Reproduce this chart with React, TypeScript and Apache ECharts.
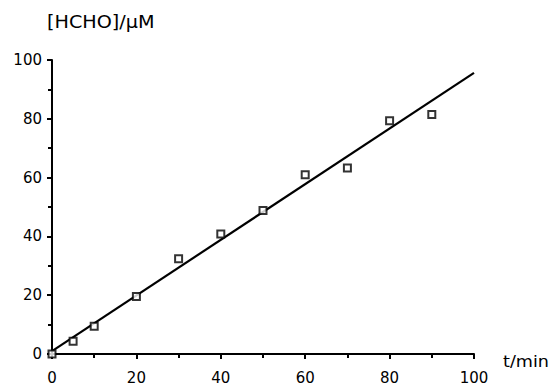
import React, { useEffect, useRef } from "react";
import * as echarts from "echarts";

const timeMin = [0, 5, 10, 20, 30, 40, 50, 60, 70, 80, 90];
const hchoMicroM = [0, 4.3, 9.4, 19.6, 32.4, 40.8, 48.8, 61, 63.3, 79.3, 81.5];
const fitTime = [0, 100];
const fitHcho = [1, 95.6];
const xTicks = [0, 20, 40, 60, 80, 100];
const yTicks = [0, 20, 40, 60, 80, 100];

const FONT = "DejaVu Sans";

export default function App() {
  const ref = useRef<HTMLDivElement>(null);
  useEffect(() => {
    if (!ref.current) return;
    const chart = echarts.init(ref.current, undefined, { renderer: "svg" });
    const axisCommon = {
      type: "value" as const,
      min: 0,
      max: 100,
      interval: 20,
      axisLine: { show: true, onZero: false, lineStyle: { color: "#000", width: 2 } },
      axisTick: { show: true, inside: false, length: 5, lineStyle: { color: "#000", width: 2 } },
      minorTick: { show: true, splitNumber: 2, length: 4, lineStyle: { color: "#000", width: 2 } },
      splitLine: { show: false },
    };
    chart.setOption({
      animation: false,
      backgroundColor: "#fff",
      grid: { left: 52, right: 79, top: 60, bottom: 30, containLabel: false },
      xAxis: {
        ...axisCommon,
        axisLabel: {
          margin: 16,
          color: "#000",
          fontFamily: FONT,
          fontSize: 15,
          formatter: (v: number) => (xTicks.includes(v) ? String(v) : ""),
        },
      },
      yAxis: {
        ...axisCommon,
        axisLabel: {
          margin: 10,
          color: "#000",
          fontFamily: FONT,
          fontSize: 15,
          formatter: (v: number) => (yTicks.includes(v) ? String(v) : ""),
        },
      },
      graphic: [
        {
          type: "text",
          left: 47,
          top: 13,
          scaleX: 1.13,
          style: { text: "[HCHO]/μM", fontFamily: FONT, fontSize: 17, fill: "#000" },
        },
        {
          type: "text",
          left: 503,
          top: 353,
          scaleX: 1.1,
          style: { text: "t/min", fontFamily: FONT, fontSize: 16, fill: "#000" },
        },
      ],
      series: [
        {
          type: "line",
          data: fitTime.map((t, i) => [t, fitHcho[i]]),
          symbol: "none",
          lineStyle: { color: "#000", width: 2.2 },
          clip: false,
          z: 2,
        },
        {
          type: "scatter",
          data: timeMin.map((t, i) => [t, hchoMicroM[i]]),
          symbol: "rect",
          symbolSize: 7,
          itemStyle: { color: "#fff", borderColor: "#000", borderWidth: 2 },
          clip: false,
          z: 3,
        },
      ],
    });
    return () => chart.dispose();
  }, []);
  return (
    <div
      ref={ref}
      style={{ position: "fixed", left: 0, top: 0, width: 553, height: 385, background: "#fff" }}
    />
  );
}
